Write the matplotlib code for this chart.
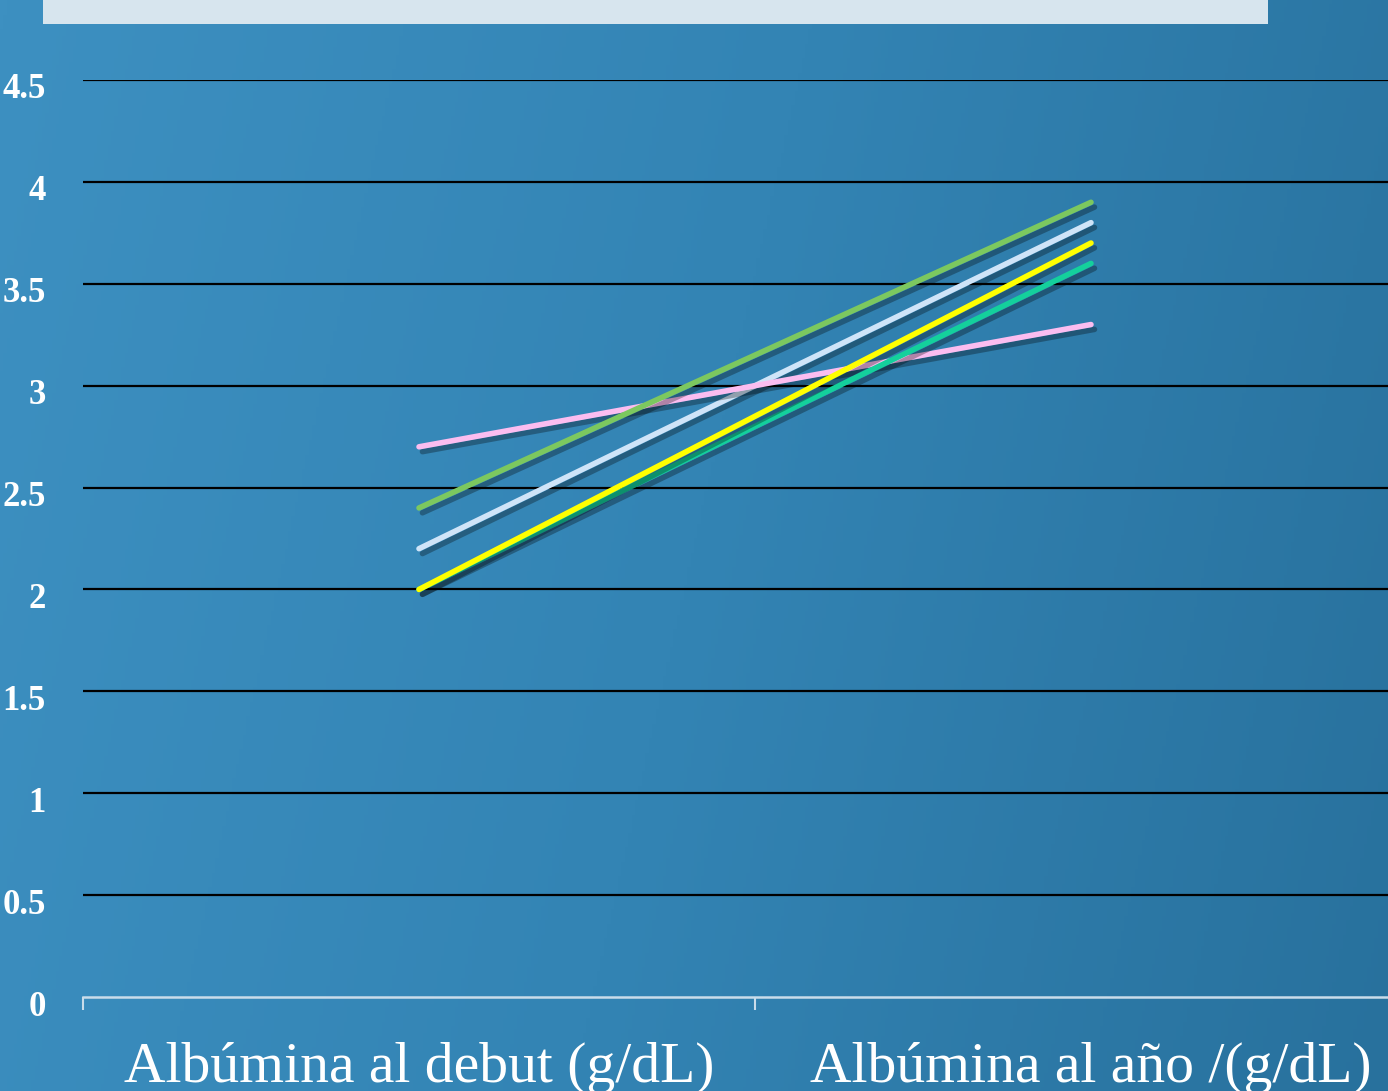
import numpy as np
import matplotlib
matplotlib.use("Agg")
import matplotlib.pyplot as plt
import matplotlib.patheffects as pe
import matplotlib.transforms as mtransforms
from matplotlib.colors import LinearSegmentedColormap
from matplotlib.patches import Rectangle

categories = ["Albúmina al debut (g/dL)", "Albúmina al año /(g/dL)"]
teal = [2.0, 3.6]
yellow = [2.0, 3.7]
light_blue = [2.2, 3.8]
green = [2.4, 3.9]
pink = [2.7, 3.3]
y_ticks = [0, 0.5, 1, 1.5, 2, 2.5, 3, 3.5, 4, 4.5]
y_labels = ["0", "0.5", "1", "1.5", "2", "2.5", "3", "3.5", "4", "4.5"]

W, H = 1388, 1091
fig = plt.figure(figsize=(W / 100, H / 100), dpi=100)

# background gradient, lighter top-left to darker right
bg = fig.add_axes([0, 0, 1, 1])
bg.set_axis_off()
xx, yy = np.meshgrid(np.linspace(0, 1, 400), np.linspace(0, 1, 300))
t = 0.85 * xx + 0.15 * yy
cmap = LinearSegmentedColormap.from_list("bg", ["#3d90c1", "#3384b4", "#28719d"])
bg.imshow(t, cmap=cmap, aspect="auto", extent=[0, 1, 0, 1], origin="upper")
bg.set_xlim(0, 1)
bg.set_ylim(0, 1)
# pale title box along the top edge
bg.add_patch(Rectangle((43 / W, 1 - 24 / H), (1268 - 43) / W, 24 / H + 0.01,
                       facecolor="#d7e5ee", edgecolor="none"))

left = 83 / W
right = 1427 / W
bottom = 1 - 997 / H
top = 1 - 80 / H
ax = fig.add_axes([left, bottom, right - left, top - bottom])
ax.patch.set_alpha(0)

x = np.arange(len(categories))
shadow = [pe.SimpleLineShadow(offset=(2.5, -3.5), shadow_color="black", alpha=0.3), pe.Normal()]
series = [(light_blue, "#cfe4f8"), (pink, "#fbbdf0"), (green, "#7cc85f"),
          (teal, "#14d09c"), (yellow, "#ffff00")]
for vals, c in series:
    ax.plot(x, vals, color=c, lw=4.0, solid_capstyle="round", path_effects=shadow, zorder=3)

ax.set_xlim(-0.5, 1.5)
ax.set_ylim(0, 4.5)
ax.set_yticks(y_ticks)
ax.set_yticklabels(y_labels, fontfamily="Liberation Serif", fontweight="bold",
                   fontsize=25, color="white")
ax.tick_params(axis="y", length=0, pad=27)
shift = mtransforms.ScaledTranslation(0, -6 / 100, fig.dpi_scale_trans)
for lab in ax.get_yticklabels():
    lab.set_transform(lab.get_transform() + shift)
for yv in y_ticks[1:]:
    ax.axhline(yv, color="black", lw=1.6, zorder=1)

ax.set_xticks([-0.5, 0.5, 1.5])
ax.set_xticklabels([])
ax.tick_params(axis="x", which="major", direction="out", length=9, width=1.5, color="#c9dcea")
ax.set_xticks(x, minor=True)
ax.set_xticklabels(categories, minor=True, fontfamily="Liberation Serif",
                   fontsize=41.5, color="white")
ax.tick_params(axis="x", which="minor", length=0, pad=32)

for s in ["top", "right", "left"]:
    ax.spines[s].set_visible(False)
ax.spines["bottom"].set_color("#c9dcea")
ax.spines["bottom"].set_linewidth(1.8)

fig.savefig("out.png", dpi=100)
